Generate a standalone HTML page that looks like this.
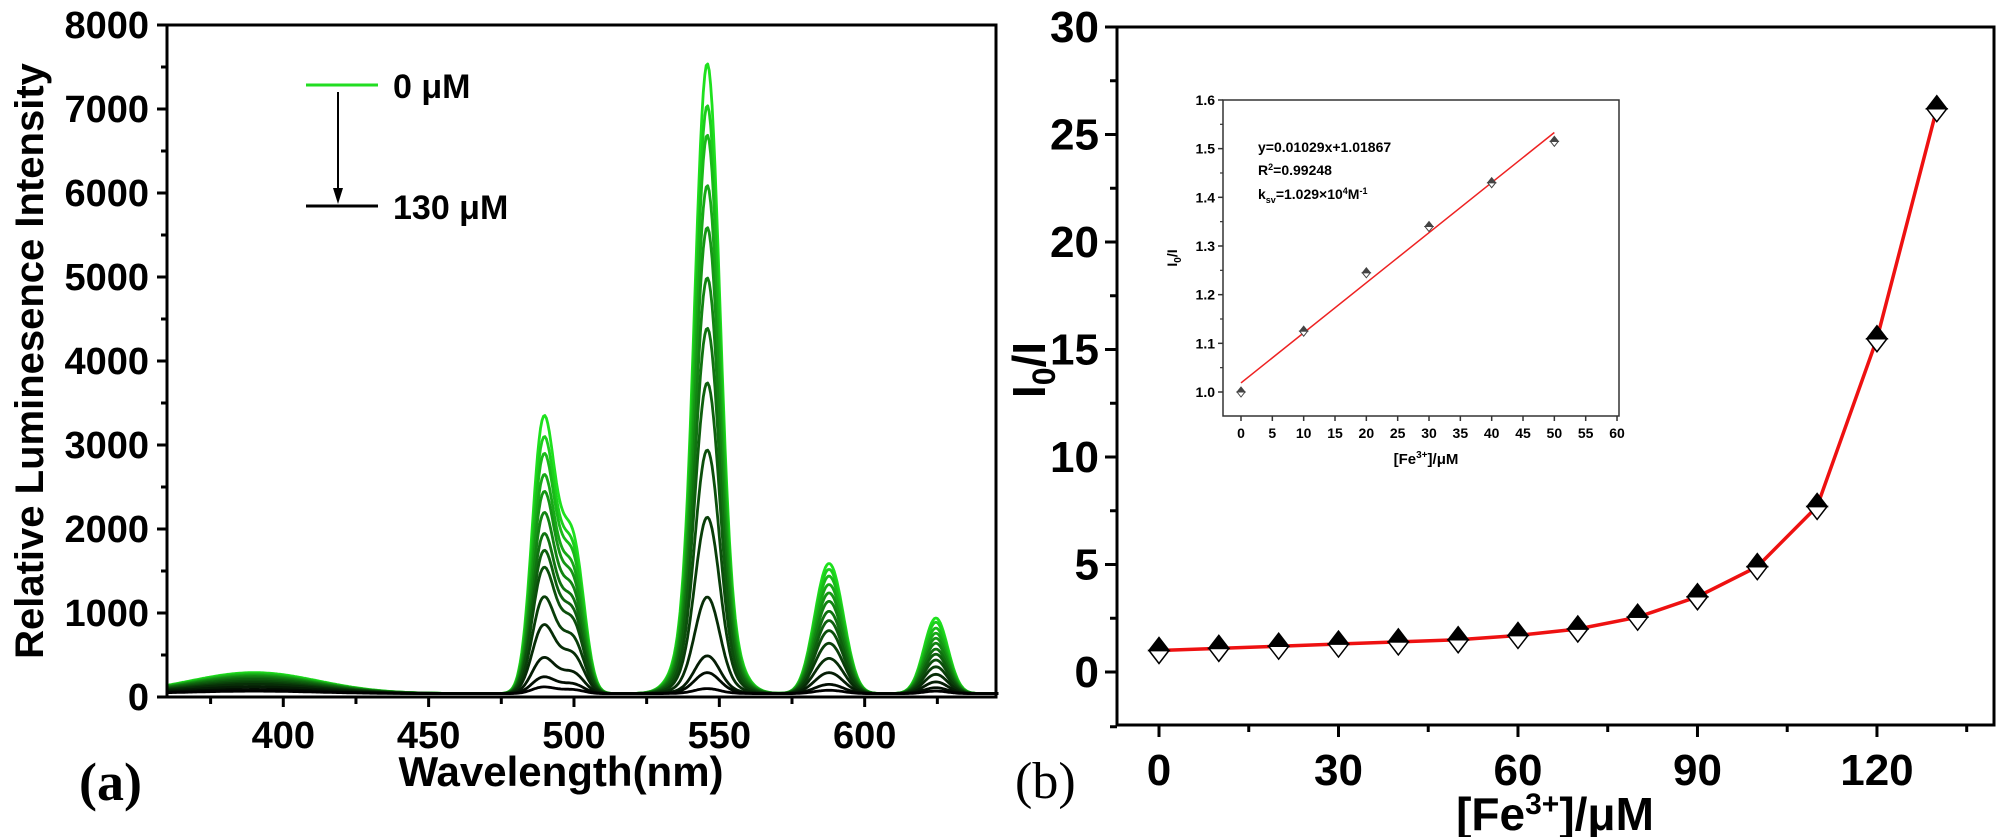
<!DOCTYPE html>
<html><head><meta charset="utf-8">
<style>
html,body{margin:0;padding:0;background:#fff;}
svg{display:block;}
text{font-family:"Liberation Sans",Arial,sans-serif;font-weight:bold;fill:#000;}
.nar{font-family:"Liberation Sans Narrow","Liberation Sans",sans-serif;}
</style></head>
<body>
<svg id="fig" width="2000" height="837" viewBox="0 0 2000 837" xmlns="http://www.w3.org/2000/svg">
<g id="left"></g>
<g id="right"></g>
</svg>
<script>
// ---- Left chart data ----
const concLabels = [0,10,20,30,40,50,60,70,80,90,100,110,120,130];
const peak490 = [3300,3050,2850,2600,2400,2150,1900,1700,1500,1150,820,430,200,80];
const shoulder500 = [1880,1750,1650,1500,1380,1250,1120,1000,880,680,480,260,120,50];
const peak545 = [7500,7000,6650,6050,5550,4950,4350,3700,2900,2100,1150,450,250,60];
const peak588 = [1550,1480,1400,1300,1200,1100,980,870,750,600,420,250,110,40];
const peak625 = [900,850,780,720,660,600,530,470,400,320,230,140,70,30];
const bump390 = [250,240,230,220,210,200,185,170,150,130,110,80,50,30];
const xTicksL = [400,450,500,550,600];
const yTicksL = [0,1000,2000,3000,4000,5000,6000,7000,8000];
// ---- Right chart data ----
const feConc = [0,10,20,30,40,50,60,70,80,90,100,110,120,130];
const ratio = [1.0,1.1,1.2,1.3,1.4,1.5,1.7,2.0,2.55,3.5,4.9,7.7,15.5,26.2];
const xTicksR = [0,30,60,90,120];
const yTicksR = [0,5,10,15,20,25,30];
// ---- Inset data ----
const insetX = [0,10,20,30,40,50];
const insetY = [1.0,1.125,1.245,1.34,1.43,1.515];
const fitSlope = 0.01029, fitIntercept = 1.01867;
const insetXTicks = [0,5,10,15,20,25,30,35,40,45,50,55,60];
const insetYTicks = [1.0,1.1,1.2,1.3,1.4,1.5,1.6];

const NS="http://www.w3.org/2000/svg";
function mk(tag,attrs,parent,txt){const e=document.createElementNS(NS,tag);for(const k in attrs)e.setAttribute(k,attrs[k]);if(txt!==undefined)e.textContent=txt;parent.appendChild(e);return e;}

// ===== LEFT =====
const L=document.getElementById('left');
const lx=v=>167+(v-360)*2.907, ly=v=>697-v*0.084;
const LX0=167,LX1=996,LY0=697,LY1=25;
function gauss(x,c,s){return Math.exp(-0.5*((x-c)/s)**2);}
const s490=w=>gauss(w,489,3.7)+0.4*gauss(w,495,4);
const s500=w=>gauss(w,500.5,3.5);
const s545=w=>gauss(w,544,3.6)*0.97+gauss(w,547.6,3.6)+0.4*gauss(w,546,7);
const s588=w=>gauss(w,585.5,4.2)+gauss(w,590,4.2);
const s625=w=>gauss(w,624.5,4.1);
function maxOf(f,a,b){let m=0;for(let w=a;w<=b;w+=0.1)m=Math.max(m,f(w));return m;}
const m490=maxOf(s490,480,500),m545=maxOf(s545,535,556),m588=maxOf(s588,578,598);
const n=concLabels.length;
for(let i=0;i<n;i++){
  let d='';
  for(let w=360;w<=646;w+=0.5){
    let v=40+bump390[i]*gauss(w,390,22)
      +peak490[i]*s490(w)/m490+shoulder500[i]*0.72*s500(w)
      +peak545[i]*s545(w)/m545
      +peak588[i]*s588(w)/m588
      +peak625[i]*s625(w);
    d+=(d?'L':'M')+lx(w).toFixed(1)+' '+ly(v).toFixed(1);
  }
  const t=i/(n-1);
  const g=Math.round(225*(1-t)**1.1), r=Math.round(30*(1-t));
  const p=mk('path',{d:d,fill:'none',stroke:`rgb(${r},${g},${r})`,'stroke-width':2.8,'stroke-linejoin':'round'},L);
  
  
}
mk('rect',{x:LX0,y:LY1,width:LX1-LX0,height:LY0-LY1,fill:'none',stroke:'#000','stroke-width':3,},L);
yTicksL.forEach(v=>{mk('line',{x1:LX0-10,x2:LX0,y1:ly(v),y2:ly(v),stroke:'#000','stroke-width':3},L);
  mk('text',{x:LX0-18,y:ly(v)+13,'text-anchor':'end','font-size':38,},L,String(v));
  if(v<8000)mk('line',{x1:LX0-6,x2:LX0,y1:ly(v+500),y2:ly(v+500),stroke:'#000','stroke-width':3},L);});
for(let w=375;w<=645;w+=25){mk('line',{x1:lx(w),x2:lx(w),y1:LY0,y2:LY0+(w%50===0?10:7),stroke:'#000','stroke-width':3},L);}
xTicksL.forEach(v=>mk('text',{x:lx(v),y:748,'text-anchor':'middle','font-size':38,},L,String(v)));
mk('text',{x:561,y:786,'text-anchor':'middle','font-size':42,},L,'Wavelength(nm)');
mk('text',{transform:'translate(43,361) rotate(-90)','text-anchor':'middle','font-size':40,},L,'Relative Luminesence Intensity');
mk('text',{x:79,y:800,'font-size':54,style:'font-family:"Liberation Serif",serif;font-weight:bold',},L,'(a)');
mk('line',{x1:306,x2:378,y1:85,y2:85,stroke:'#22dd22','stroke-width':3,},L);
mk('text',{x:393,y:98,'font-size':34,},L,'0 μM');
mk('line',{x1:306,x2:378,y1:206,y2:206,stroke:'#000','stroke-width':3,},L);
mk('text',{x:393,y:219,'font-size':34,},L,'130 μM');
mk('line',{x1:338,x2:338,y1:92,y2:196,stroke:'#000','stroke-width':2,},L);
mk('path',{d:'M333 188 L343 188 L338 204 Z',fill:'#000'},L);

// ===== RIGHT =====
const R=document.getElementById('right');
const rx=v=>1159+v*5.983, ry=v=>672-v*21.5;
const RX0=1117,RX1=1994,RY0=725,RY1=27;
mk('rect',{x:RX0,y:RY1,width:RX1-RX0,height:RY0-RY1,fill:'none',stroke:'#000','stroke-width':3,},R);
yTicksR.forEach(v=>{mk('line',{x1:RX0-12,x2:RX0,y1:ry(v),y2:ry(v),stroke:'#000','stroke-width':3},R);
  mk('text',{x:RX0-18,y:ry(v)+15,'text-anchor':'end','font-size':44,class:'nar',},R,String(v));
  if(v<30)mk('line',{x1:RX0-7,x2:RX0,y1:ry(v+2.5),y2:ry(v+2.5),stroke:'#000','stroke-width':3},R);});
mk('line',{x1:RX0-7,x2:RX0,y1:ry(-2.5)+1,y2:ry(-2.5)+1,stroke:'#000','stroke-width':3},R);
for(let v=0;v<=135;v+=15){mk('line',{x1:rx(v),x2:rx(v),y1:RY0,y2:RY0+(v%30===0?12:7),stroke:'#000','stroke-width':3},R);}
xTicksR.forEach(v=>mk('text',{x:rx(v),y:785,'text-anchor':'middle','font-size':44,class:'nar',},R,String(v)));
const xt=mk('text',{x:1555,y:830,'text-anchor':'middle','font-size':46,class:'nar',},R);
xt.innerHTML='[Fe<tspan dy="-16" font-size="30">3+</tspan><tspan dy="16">]/μM</tspan>';
const yt=mk('text',{transform:'translate(1045,370) rotate(-90)','text-anchor':'middle','font-size':46,class:'nar',},R);
yt.innerHTML='I<tspan dy="10" font-size="32">0</tspan><tspan dy="-10">/I</tspan>';
mk('text',{x:1015,y:798,'font-size':52,style:'font-family:"Liberation Serif",serif;font-weight:normal',},R,'(b)');
let d='';feConc.forEach((c,i)=>{d+=(i?'L':'M')+rx(c)+' '+ry(ratio[i]);});
mk('path',{d:d,fill:'none',stroke:'#ee1111','stroke-width':3.5,},R);
feConc.forEach((c,i)=>{const X=rx(c),Y=ry(ratio[i]);
  const gm=mk('g',{},R);
  mk('path',{d:`M${X-10} ${Y} L${X} ${Y+13} L${X+10} ${Y} Z`,fill:'#fff',stroke:'#000','stroke-width':1.5},gm);
  mk('path',{d:`M${X-10} ${Y} L${X} ${Y-13} L${X+10} ${Y} Z`,fill:'#000',stroke:'#000','stroke-width':1.5},gm);});

// ===== INSET =====
const I=mk('g',{},R);
const ix=v=>1241+v*6.267, iy=v=>392-(v-1.0)*486.7;
const IX0=1223,IX1=1619,IY0=416,IY1=100;
mk('rect',{x:IX0,y:IY1,width:IX1-IX0,height:IY0-IY1,fill:'#fff',stroke:'#333','stroke-width':1.5,},I);
insetYTicks.forEach(v=>{mk('line',{x1:IX0-5,x2:IX0,y1:iy(v),y2:iy(v),stroke:'#333','stroke-width':1.5},I);
  mk('text',{x:IX0-8,y:iy(v)+5,'text-anchor':'end','font-size':14,},I,v.toFixed(1));
  if(v<1.6)mk('line',{x1:IX0-3,x2:IX0,y1:iy(v+0.05),y2:iy(v+0.05),stroke:'#333','stroke-width':1.2},I);});
insetXTicks.forEach(v=>{mk('line',{x1:ix(v),x2:ix(v),y1:IY0,y2:IY0+5,stroke:'#333','stroke-width':1.5},I);
  mk('text',{x:ix(v),y:IY0+22,'text-anchor':'middle','font-size':14,},I,String(v));});
const ixt=mk('text',{x:1426,y:464,'text-anchor':'middle','font-size':15,},I);
ixt.innerHTML='[Fe<tspan dy="-6" font-size="10">3+</tspan><tspan dy="6">]/μM</tspan>';
const iyt=mk('text',{transform:'translate(1177,258) rotate(-90)','text-anchor':'middle','font-size':14,},I);
iyt.innerHTML='I<tspan dy="4" font-size="10">0</tspan><tspan dy="-4">/I</tspan>';
mk('line',{x1:ix(0),y1:iy(fitIntercept),x2:ix(50),y2:iy(fitIntercept+fitSlope*50),stroke:'#ee2222','stroke-width':1.5,},I);
insetX.forEach((c,i)=>{const X=ix(c),Y=iy(insetY[i]);
  const gm=mk('g',{},I);
  mk('path',{d:`M${X-4} ${Y} L${X} ${Y+5} L${X+4} ${Y} Z`,fill:'#fff',stroke:'#444','stroke-width':1},gm);
  mk('path',{d:`M${X-4} ${Y} L${X} ${Y-5} L${X+4} ${Y} Z`,fill:'#444',stroke:'#444','stroke-width':1},gm);});
mk('text',{x:1258,y:152,'font-size':14,},I,'y=0.01029x+1.01867');
const r2=mk('text',{x:1258,y:175,'font-size':14,},I);
r2.innerHTML='R<tspan dy="-5" font-size="9">2</tspan><tspan dy="5">=0.99248</tspan>';
const ks=mk('text',{x:1258,y:199,'font-size':14,},I);
ks.innerHTML='k<tspan dy="4" font-size="9">sv</tspan><tspan dy="-4">=1.029×10</tspan><tspan dy="-5" font-size="9">4</tspan><tspan dy="5">M</tspan><tspan dy="-5" font-size="9">-1</tspan>';
</script>
</body></html>
